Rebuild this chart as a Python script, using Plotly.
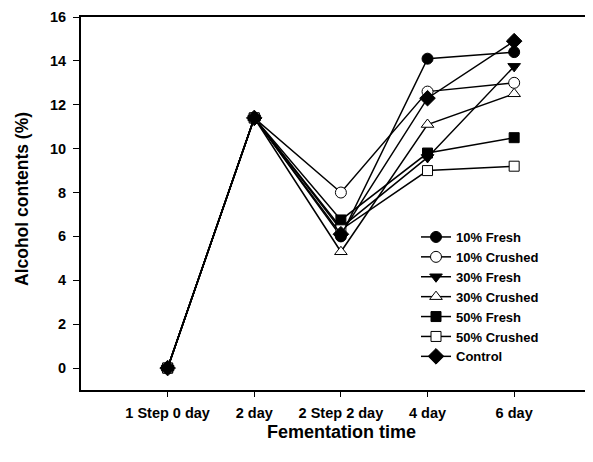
import plotly.graph_objects as go

categories = ["1 Step 0 day", "2 day", "2 Step 2 day", "4 day", "6 day"]
series_names = ["10% Fresh", "10% Crushed", "30% Fresh", "30% Crushed", "50% Fresh", "50% Crushed", "Control"]
fresh10 = [0, 11.4, 6.0, 14.1, 14.4]
crushed10 = [0, 11.4, 8.0, 12.6, 13.0]
fresh30 = [0, 11.4, 6.4, 9.6, 13.75]
crushed30 = [0, 11.4, 5.3, 11.1, 12.5]
fresh50 = [0, 11.4, 6.75, 9.8, 10.5]
crushed50 = [0, 11.4, 6.3, 9.0, 9.2]
control = [0, 11.4, 6.1, 12.3, 14.9]
y_ticks = [0, 2, 4, 6, 8, 10, 12, 14, 16]

values = [fresh10, crushed10, fresh30, crushed30, fresh50, crushed50, control]
symbols = ["circle", "circle", "triangle-down", "triangle-up", "square", "square", "diamond"]
fills = ["black", "white", "black", "white", "black", "white", "black"]
sizes = [11, 11, 11, 11, 10, 10, 12]

FONT = "Arial, Liberation Sans, sans-serif"
# page body has an 8px margin: figure is sized/offset to compensate
W, H = 585, 454
L, T, B, R = 73, 9, 72, 0
PW, PH = W - L - R, H - T - B

fig = go.Figure()
for name, vals, sym, fc, sz in zip(series_names, values, symbols, fills, sizes):
    fig.add_trace(go.Scatter(
        x=categories, y=vals, name=name, mode="lines+markers",
        line=dict(color="black", width=1.5),
        marker=dict(symbol=sym, size=sz, color=fc, line=dict(color="black", width=1)),
    ))

fig.update_layout(
    width=W, height=H,
    margin=dict(l=L, r=R, t=T, b=B),
    paper_bgcolor="white", plot_bgcolor="white",
    font=dict(family=FONT, size=12, color="black"),
    showlegend=True,
    legend=dict(x=(408 - L) / PW, y=(PH + T - 214) / PH, xanchor="left", yanchor="top",
                font=dict(family=FONT, size=13, color="black", weight="bold"),
                bgcolor="rgba(0,0,0,0)", tracegroupgap=0, itemwidth=30),
)
fig.update_xaxes(
    type="category", range=[-1.0, 4.91],
    showline=True, linecolor="black", linewidth=2, mirror=True,
    ticks="outside", ticklen=5, tickwidth=1, tickcolor="black",
    showgrid=False, zeroline=False, ticklabelstandoff=4,
    tickfont=dict(family=FONT, size=14.5, color="black", weight="bold"),
)
fig.update_yaxes(
    range=[-1, 16], tickvals=y_ticks,
    showline=True, linecolor="black", linewidth=2, mirror=False,
    ticks="outside", ticklen=6, tickwidth=1, tickcolor="black",
    showgrid=False, zeroline=False, ticklabelstandoff=4,
    tickfont=dict(family=FONT, size=14.5, color="black", weight="bold"),
)
fig.add_annotation(text="Alcohol contents (%)", xref="paper", yref="paper",
                   x=(14 - L) / PW, y=(PH + T - 191) / PH, textangle=-90, showarrow=False,
                   xanchor="center", yanchor="middle",
                   font=dict(family=FONT, size=17.5, color="black", weight="bold"))
fig.add_annotation(text="Fementation time", xref="paper", yref="paper",
                   x=(333 - L) / PW, y=-(424 - (PH + T)) / PH, showarrow=False,
                   xanchor="center", yanchor="middle",
                   font=dict(family=FONT, size=18, color="black", weight="bold"))
fig.write_html("out.html")
